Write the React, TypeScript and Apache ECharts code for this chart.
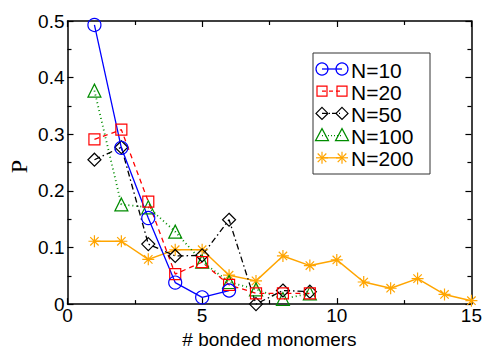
import React, { useEffect, useRef } from "react";
import * as echarts from "echarts";

// number of bonded monomers (x) and probability P for each chain length N
const xN10 = [1, 2, 3, 4, 5, 6];
const pN10 = [0.493, 0.276, 0.152, 0.038, 0.012, 0.024];

const xN20 = [1, 2, 3, 4, 5, 6, 7, 8, 9];
const pN20 = [0.291, 0.308, 0.181, 0.053, 0.074, 0.034, 0.019, 0.019, 0.019];

const xN50 = [1, 2, 3, 4, 5, 6, 7, 8, 9];
const pN50 = [0.255, 0.277, 0.106, 0.085, 0.086, 0.149, 0.0, 0.024, 0.022];

const xN100 = [1, 2, 3, 4, 5, 6, 7, 8, 9];
const pN100 = [0.377, 0.176, 0.171, 0.128, 0.075, 0.039, 0.026, 0.009, 0.019];

const xN200 = [1, 2, 3, 4, 5, 6, 7, 8, 9, 10, 11, 12, 13, 14, 15];
const pN200 = [0.111, 0.111, 0.079, 0.096, 0.096, 0.051, 0.041, 0.085, 0.068, 0.078, 0.039, 0.028, 0.045, 0.017, 0.006];

const legendLabels = ["N=10", "N=20", "N=50", "N=100", "N=200"];
const xTitle = "# bonded monomers";
const yTitle = "P";

const BLUE = "#0000ff";
const RED = "#ff0000";
const BLACK = "#000000";
const GREEN = "#008c00";
const ORANGE = "#ffa500";

const STAR = "path://M0,5 L10,5 M5,0 L5,10 M1.5,1.5 L8.5,8.5 M8.5,1.5 L1.5,8.5";

const pairs = (xs: number[], ys: number[]) => xs.map((x, i) => [x, ys[i]]);

const sansFont = "'Liberation Sans', Arial, sans-serif";

function legendMarker(kind: string, cx: number, cy: number, color: string): any {
  const style = { fill: "none", stroke: color, lineWidth: 1.2 };
  switch (kind) {
    case "circle":
      return { type: "circle", shape: { cx, cy, r: 6 }, style };
    case "rect":
      return { type: "rect", shape: { x: cx - 5, y: cy - 5, width: 10, height: 10 }, style };
    case "diamond":
      return {
        type: "polygon",
        shape: { points: [[cx, cy - 6], [cx + 6, cy], [cx, cy + 6], [cx - 6, cy]] },
        style,
      };
    case "triangle":
      return {
        type: "polygon",
        shape: { points: [[cx, cy - 7], [cx + 6.5, cy + 5], [cx - 6.5, cy + 5]] },
        style,
      };
    default: {
      const r = 6;
      const d = r * 0.72;
      const seg = (x1: number, y1: number, x2: number, y2: number) => ({
        type: "line",
        shape: { x1, y1, x2, y2 },
        style: { stroke: color, lineWidth: 1.2 },
      });
      return {
        type: "group",
        children: [
          seg(cx - r, cy, cx + r, cy),
          seg(cx, cy - r, cx, cy + r),
          seg(cx - d, cy - d, cx + d, cy + d),
          seg(cx + d, cy - d, cx - d, cy + d),
        ],
      };
    }
  }
}

export default function App() {
  const ref = useRef<HTMLDivElement>(null);

  useEffect(() => {
    if (!ref.current) return;
    const chart = echarts.init(ref.current, null, { renderer: "svg" });

    const axisCommon = {
      axisLine: { show: true, onZero: false, lineStyle: { color: "#000", width: 1.5 } },
      axisTick: { show: true, inside: true, length: 6, lineStyle: { color: "#000", width: 1.2 } },
      minorTick: { show: true, splitNumber: 2, length: 4, lineStyle: { color: "#000", width: 1.2 } },
      splitLine: { show: false },
    };

    const mk = (
      name: string,
      xs: number[],
      ys: number[],
      color: string,
      symbol: string,
      symbolSize: number,
      lineType: any,
      lineWidth = 1.3
    ) => ({
      name,
      type: "line",
      data: pairs(xs, ys),
      symbol,
      symbolSize,
      showSymbol: true,
      lineStyle: { color, width: lineWidth, type: lineType },
      itemStyle: { color: "rgba(0,0,0,0)", borderColor: color, borderWidth: 1.2 },
      z: 3,
    });

    const entries = [
      { kind: "circle", color: BLUE, dash: null },
      { kind: "rect", color: RED, dash: [4, 3] },
      { kind: "diamond", color: BLACK, dash: [5, 2, 1, 2] },
      { kind: "triangle", color: GREEN, dash: [1, 2] },
      { kind: "star", color: ORANGE, dash: null },
    ];
    const graphics: any[] = [
      {
        type: "rect",
        shape: { x: 313, y: 53, width: 117, height: 121 },
        style: { fill: "#fff", stroke: "#333", lineWidth: 1 },
      },
    ];
    entries.forEach((e, i) => {
      const cy = 69 + i * 22.2;
      graphics.push({
        type: "line",
        shape: { x1: 322, y1: cy, x2: 342, y2: cy },
        style: { stroke: e.color, lineWidth: 1.3, lineDash: e.dash || undefined },
      });
      graphics.push(legendMarker(e.kind, 322, cy, e.color));
      graphics.push(legendMarker(e.kind, 342, cy, e.color));
      graphics.push({
        type: "text",
        x: 351,
        y: cy + 1,
        style: {
          text: legendLabels[i],
          fill: "#000",
          font: `21px ${sansFont}`,
          lineHeight: 20,
          textVerticalAlign: "middle",
          textAlign: "left",
        },
      });
    });
    // vertical axis title, reading bottom to top
    graphics.push({
      type: "text",
      x: 18.5,
      y: 166.5,
      rotation: Math.PI / 2,
      style: {
        text: yTitle,
        fill: "#000",
        font: "24px 'Liberation Serif', 'Times New Roman', serif",
        textAlign: "center",
        textVerticalAlign: "middle",
      },
    });

    chart.setOption({
      animation: false,
      backgroundColor: "#fff",
      grid: { left: 67.5, right: 12, top: 21, bottom: 41, containLabel: false },
      xAxis: [
        {
          type: "value",
          min: 0,
          max: 15,
          interval: 5,
          position: "bottom",
          name: xTitle,
          nameLocation: "middle",
          nameGap: 21,
          nameTextStyle: { color: "#000", fontSize: 19, fontFamily: sansFont },
          axisLabel: { color: "#000", fontSize: 19, fontFamily: sansFont, margin: 2 },
          ...axisCommon,
        },
        {
          type: "value",
          min: 0,
          max: 15,
          interval: 5,
          position: "top",
          axisLabel: { show: false },
          ...axisCommon,
        },
      ],
      yAxis: [
        {
          type: "value",
          min: 0,
          max: 0.5,
          interval: 0.1,
          position: "left",
          axisLabel: { color: "#000", fontSize: 19, fontFamily: sansFont, margin: 3 },
          ...axisCommon,
        },
        {
          type: "value",
          min: 0,
          max: 0.5,
          interval: 0.1,
          position: "right",
          axisLabel: { show: false },
          ...axisCommon,
        },
      ],
      series: [
        mk("N=200", xN200, pN200, ORANGE, STAR, 12, "solid", 1.5),
        mk("N=100", xN100, pN100, GREEN, "triangle", 13, [1, 3], 1.8),
        mk("N=50", xN50, pN50, BLACK, "diamond", 13, [6, 3, 1.5, 3]),
        mk("N=20", xN20, pN20, RED, "rect", 11, [5, 4]),
        mk("N=10", xN10, pN10, BLUE, "circle", 13, "solid"),
      ],
      graphic: graphics,
    });

    return () => chart.dispose();
  }, []);

  return <div ref={ref} style={{ width: 485, height: 354, position: "absolute", left: 0, top: 0 }} />;
}
